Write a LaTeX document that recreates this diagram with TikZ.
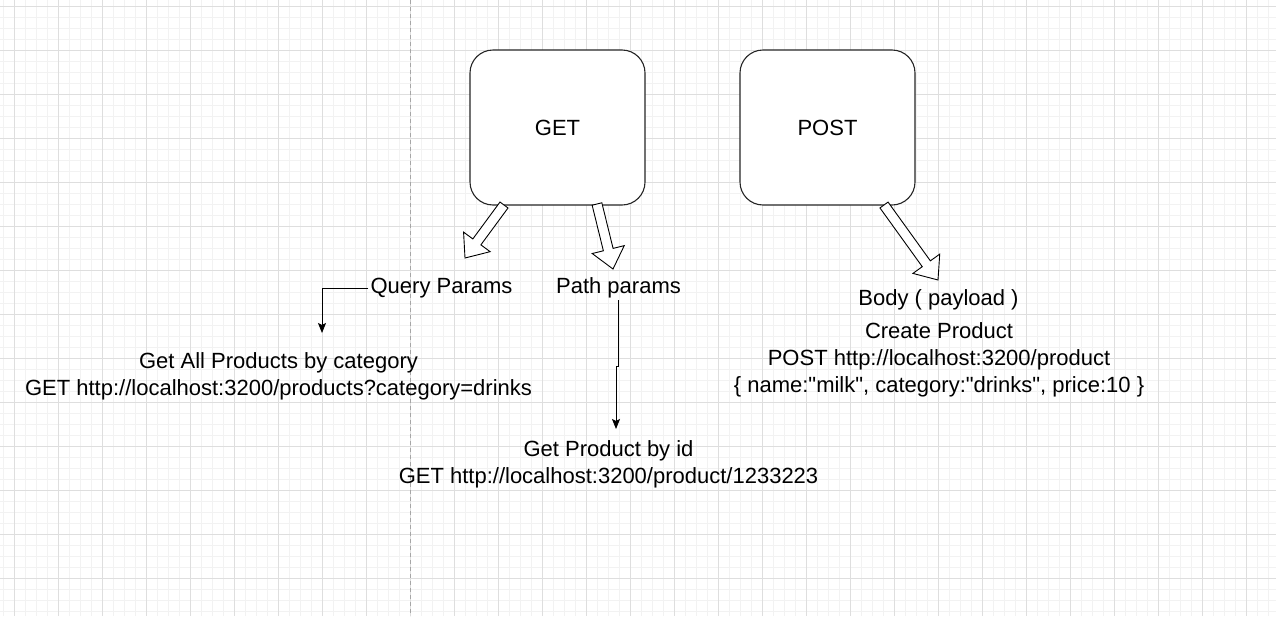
\documentclass[tikz,border=0pt]{standalone}
\usepackage{fontspec}
\setmainfont{Liberation Sans}
\usetikzlibrary{arrows.meta,calc}

\begin{document}
\begin{tikzpicture}[x=1pt,y=-1pt,
  every node/.style={font=\fontsize{22}{27}\selectfont},
  verb/.style={draw=black!85,line width=1.1pt,rounded corners=23pt,fill=white,minimum width=175pt,minimum height=155pt},
  caption/.style={align=center,inner sep=2pt},
  link/.style={draw,line width=0.9pt,-{Stealth[length=10pt,width=8pt,inset=2pt]}},
  hollow/.style={draw,fill=white,line width=0.9pt,
    to path={
      ($(\tikztostart)!5pt!90:(\tikztotarget)$)
      -- ($(\tikztotarget)!20pt!(\tikztostart)!5pt!-90:(\tikztostart)$)
      -- ($(\tikztotarget)!20pt!(\tikztostart)!16.5pt!-90:(\tikztostart)$)
      -- (\tikztotarget)
      -- ($(\tikztotarget)!20pt!(\tikztostart)!16.5pt!90:(\tikztostart)$)
      -- ($(\tikztotarget)!20pt!(\tikztostart)!5pt!90:(\tikztostart)$)
      -- ($(\tikztostart)!5pt!-90:(\tikztotarget)$)
      -- cycle}},
  minorgrid/.style={draw=black!5,line width=0.8pt},
  majorgrid/.style={draw=black!13,line width=0.8pt},
  divider/.style={draw=black!35,line width=0.8pt,dash pattern=on 4pt off 3pt}]

\useasboundingbox[fill=white] (0,0) rectangle (1276,616);

% grid
\foreach \i in {0,...,115}
  \draw[minorgrid] (3.3+11*\i,0) -- (3.3+11*\i,616);
\foreach \j in {0,...,55}
  \draw[minorgrid] (0,6.3+11*\j) -- (1276,6.3+11*\j);
\foreach \i in {0,...,28}
  \draw[majorgrid] (14.3+44*\i,0) -- (14.3+44*\i,616);
\foreach \j in {0,...,13}
  \draw[majorgrid] (0,6.3+44*\j) -- (1276,6.3+44*\j);

\draw[divider] (410.3,0) -- (410.3,616);

\node[verb] (get) at (557.5,127.5) {GET};
\node[verb] (post) at (827.5,127.5) {POST};

\node[caption] (query) at (441.5,288) {Query Params};
\node[caption] (pathp) at (618.5,288) {Path params};
\node[caption] (body) at (938.5,299.5) {Body ( payload )};

\node[caption] (allcat) at (278.5,376) {Get All Products by category\\GET http://localhost:3200/products?category=drinks};
\node[caption] (byid) at (608.5,464.5) {Get Product by id\\GET http://localhost:3200/product/1233223};
\node[caption] (create) at (939,359.5) {Create Product\\POST http://localhost:3200/product\\\{ name:\textquotedbl milk\textquotedbl, category:\textquotedbl drinks\textquotedbl, price:10 \}};

% block arrows
\coordinate (gq0) at (504,205);
\coordinate (gq1) at (465,258);
\coordinate (gp0) at (597,204);
\coordinate (gp1) at (613,269);
\coordinate (pb0) at (884,205);
\coordinate (pb1) at (938,280);
\draw[hollow] (gq0) to (gq1);
\draw[hollow] (gp0) to (gp1);
\draw[hollow] (pb0) to (pb1);

\coordinate (qend) at (322,333);
\coordinate (pend) at (616,429);
\draw[link] (query.west) -| (qend);
\draw[link] (pathp.south) -- ++(0,66) -| (pend);

\end{tikzpicture}
\end{document}
